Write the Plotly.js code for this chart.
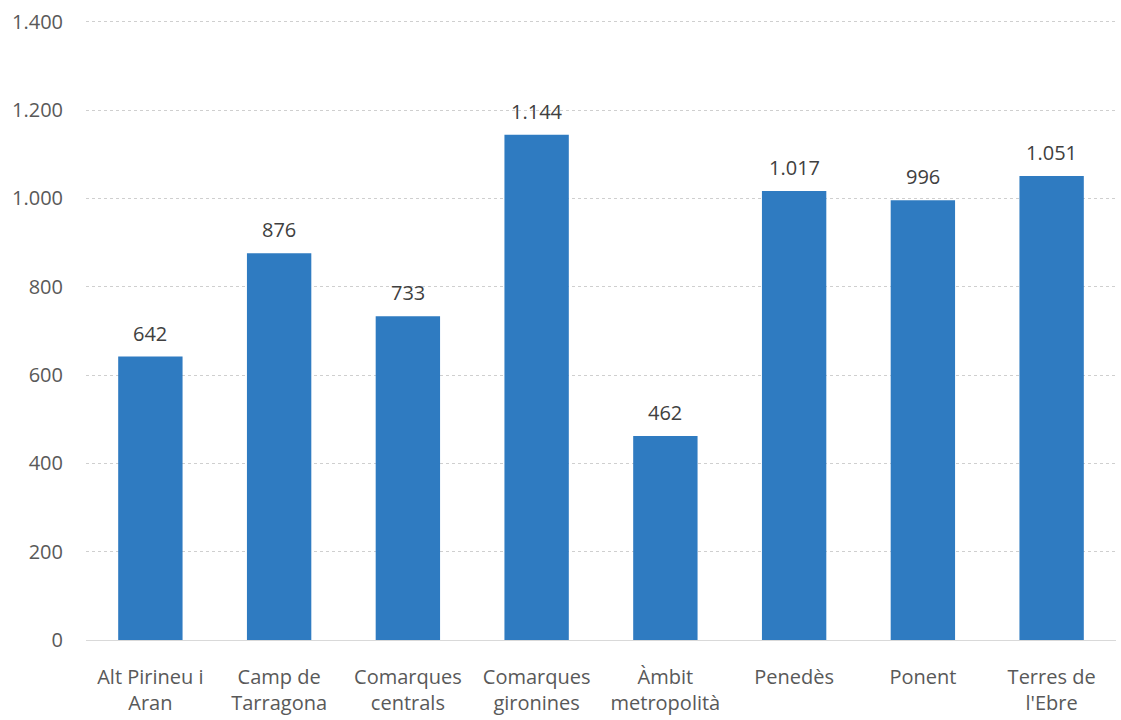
<!DOCTYPE html>
<html><head><meta charset="utf-8">
<script src="https://cdn.plot.ly/plotly-3.0.1.min.js"></script>
<style>html,body{margin:0;padding:0;background:#fff}#chart{width:1121px;height:720px}</style>
</head><body><div id="chart"></div>
<script>
const categories = ["Alt Pirineu i<br>Aran","Camp de<br>Tarragona","Comarques<br>centrals","Comarques<br>gironines","Àmbit<br>metropolità","Penedès","Ponent","Terres de<br>l'Ebre"];
const values = [642, 876, 733, 1144, 462, 1017, 996, 1051];
const yTicks = [0,200,400,600,800,1000,1200,1400];
const yTickLabels = ["0","200","400","600","800","1.000","1.200","1.400"];
const fmt = v => v >= 1000 ? Math.floor(v/1000) + "." + String(v%1000).padStart(3,"0") : String(v);
const font = "Open Sans, Liberation Sans, sans-serif";
const annotations = categories.map((c, i) => ({
  x: c, y: values[i], xref: "x", yref: "y", text: fmt(values[i]),
  showarrow: false, yanchor: "bottom", yshift: 8,
  font: {family: font, size: 20, color: "#404040"}
}));
Plotly.newPlot("chart", [{
  type: "bar", x: categories, y: values,
  marker: {color: "#2F7BC1"}, width: 0.5
}], {
  width: 1121, height: 720,
  margin: {l: 86, r: 5, t: 13, b: 80},
  paper_bgcolor: "#fff", plot_bgcolor: "#fff",
  showlegend: false,
  annotations: annotations,
  xaxis: {tickfont: {family: font, size: 20, color: "#595959"}, showline: true, linecolor: "#d9d9d9", linewidth: 1, ticks: "", showgrid: false, fixedrange: true, ticklabelstandoff: 19},
  yaxis: {range: [0, 1420], tickvals: yTicks, ticktext: yTickLabels, tickfont: {family: font, size: 20, color: "#595959"}, showgrid: true, gridcolor: "#cfcfcf", griddash: "dot", gridwidth: 1, zeroline: false, showline: false, ticks: "", ticklabelstandoff: 22}
}, {displayModeBar: false, staticPlot: true});
</script></body></html>
